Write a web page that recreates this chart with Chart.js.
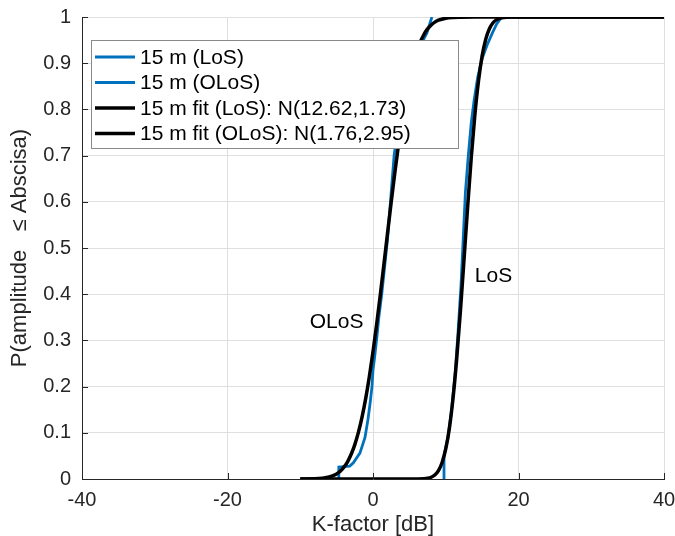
<!DOCTYPE html>
<html lang="en">
  <head>
    <meta charset="UTF-8" />
    <script src="https://cdn.jsdelivr.net/npm/chart.js@4.4.1/dist/chart.umd.min.js"></script>
    <title>K-factor CDF</title>
    <style>
      html, body { margin: 0; padding: 0; background: #fff; }
      #wrap { width: 675px; height: 536px; }
    </style>
  </head>
  <body>
    <div id="wrap"><canvas id="myChart" width="675" height="536"></canvas></div>
    <script>
      const losX = [9.76, 9.76, 10.3, 10.8, 11.3, 11.7, 12.1, 12.4, 12.7, 13.1, 13.5, 13.9, 14.4, 15.0, 15.7, 16.4, 17.0, 17.7];
      const losY = [0, 0.05, 0.09, 0.15, 0.23, 0.32, 0.42, 0.52, 0.62, 0.70, 0.77, 0.82, 0.87, 0.91, 0.94, 0.965, 0.985, 1.0];

      const olosX = [-4.7, -4.7, -3.2, -2.7, -1.8, -1.1, -0.7, -0.4, -0.14, 0.0, 0.27, 0.55, 0.8, 1.2, 1.6, 2.0, 2.3, 2.6, 2.9, 3.4, 4.0, 4.7, 5.5, 6.3, 6.9, 7.4, 7.8, 8.1];
      const olosY = [0, 0.026, 0.028, 0.035, 0.056, 0.09, 0.128, 0.164, 0.2, 0.236, 0.27, 0.31, 0.35, 0.40, 0.46, 0.52, 0.58, 0.64, 0.70, 0.76, 0.82, 0.87, 0.91, 0.935, 0.95, 0.965, 0.985, 1.0];

      // fitted curves
      const fitLosX = [-10, 5, 6, 7, 7.5, 8, 8.5, 9, 9.5, 10, 10.5, 11, 11.5, 12, 12.5, 13, 13.5, 14, 14.5, 15, 15.5, 16, 16.5, 17, 17.5, 18, 19, 20, 40];
      const fitLosY = [0, 0, 0.0001, 0.0006, 0.0015, 0.0038, 0.0087, 0.0181, 0.0357, 0.065, 0.11, 0.1746, 0.2589, 0.3601, 0.4724, 0.5871, 0.6946, 0.7876, 0.8614, 0.9158, 0.9521, 0.9747, 0.9875, 0.9943, 0.9976, 0.9991, 0.9999, 1, 1];

      const fitOlosX = [-10, -8, -7, -6, -5, -4.5, -4, -3.5, -3, -2.5, -2, -1.5, -1, -0.5, 0, 0.5, 1, 1.5, 2, 2.5, 3, 3.5, 4, 4.5, 5, 5.5, 6, 6.5, 7, 7.5, 8, 8.5, 9, 10, 11, 12, 14, 40];
      const fitOlosY = [0, 0.0004, 0.0015, 0.0043, 0.011, 0.0169, 0.0256, 0.0373, 0.0535, 0.0744, 0.1015, 0.1346, 0.1746, 0.2219, 0.2753, 0.3347, 0.3982, 0.4649, 0.5324, 0.5991, 0.6628, 0.7224, 0.7762, 0.8235, 0.8638, 0.8976, 0.9247, 0.9459, 0.9621, 0.9742, 0.9828, 0.9889, 0.993, 0.9974, 0.9991, 0.9997, 1, 1];

      const seriesLabels = ["15 m (LoS)", "15 m (OLoS)", "15 m fit (LoS): N(12.62,1.73)", "15 m fit (OLoS): N(1.76,2.95)"];
      const notes = [
        { text: "LoS", x: 14.0, y: 0.44 },
        { text: "OLoS", x: -8.7, y: 0.34 },
      ];

      const FONT = "'Liberation Sans', Arial, Helvetica, sans-serif";
      const blue = "#0072BD";
      const axisColor = "#262626";

      const pts = (xs, ys) => xs.map((x, i) => ({ x: x, y: ys[i] }));

      // legend box, inner ticks and text notes
      const extras = {
        id: "extras",
        afterDatasetsDraw(chart) {
          const ctx = chart.ctx;
          const area = chart.chartArea;
          const xs = chart.scales.x, ys = chart.scales.y;
          ctx.save();

          // inward tick marks
          ctx.strokeStyle = axisColor;
          ctx.lineWidth = 1;
          ctx.beginPath();
          xs.ticks.forEach((t) => {
            const px = Math.round(xs.getPixelForValue(t.value)) + 0.5;
            ctx.moveTo(px, area.bottom);
            ctx.lineTo(px, area.bottom - 6);
          });
          ys.ticks.forEach((t) => {
            const py = Math.round(ys.getPixelForValue(t.value)) + 0.5;
            ctx.moveTo(area.left, py);
            ctx.lineTo(area.left + 6, py);
          });
          ctx.stroke();

          // text notes
          ctx.fillStyle = "#000";
          ctx.font = "21px " + FONT;
          ctx.textAlign = "left";
          ctx.textBaseline = "middle";
          notes.forEach((n) => {
            ctx.fillText(n.text, xs.getPixelForValue(n.x), ys.getPixelForValue(n.y));
          });

          // legend
          const bx = area.left + 9, by = area.top + 23, bw = 367, bh = 108;
          ctx.fillStyle = "#fff";
          ctx.fillRect(bx, by, bw, bh);
          ctx.strokeStyle = "#8a8a8a";
          ctx.lineWidth = 1;
          ctx.strokeRect(bx + 0.5, by + 0.5, bw, bh);
          ctx.font = "21px " + FONT;
          ctx.textBaseline = "middle";
          chart.data.datasets.forEach((ds, i) => {
            const cy = by + 17 + i * 25.5;
            ctx.strokeStyle = ds.borderColor;
            ctx.lineWidth = ds.borderWidth;
            ctx.beginPath();
            ctx.moveTo(bx + 4, cy);
            ctx.lineTo(bx + 44, cy);
            ctx.stroke();
            ctx.fillStyle = "#000";
            ctx.fillText(ds.label, bx + 49, cy + 1);
          });
          ctx.restore();
        },
      };

      const ctx = document.getElementById("myChart").getContext("2d");
      const chart = new Chart(ctx, {
        type: "line",
        data: {
          datasets: [
            { label: seriesLabels[0], data: pts(losX, losY), borderColor: blue, borderWidth: 2.8, order: 4 },
            { label: seriesLabels[1], data: pts(olosX, olosY), borderColor: blue, borderWidth: 2.8, order: 3 },
            { label: seriesLabels[2], data: pts(fitLosX, fitLosY), borderColor: "#000", borderWidth: 3.5, order: 2, cubicInterpolationMode: "monotone" },
            { label: seriesLabels[3], data: pts(fitOlosX, fitOlosY), borderColor: "#000", borderWidth: 3.5, order: 1, cubicInterpolationMode: "monotone" },
          ],
        },
        options: {
          responsive: false,
          animation: false,
          elements: { point: { radius: 0 }, line: { fill: false } },
          layout: { padding: { top: 17, right: 11, left: 0, bottom: 0 } },
          plugins: { legend: { display: false }, tooltip: { enabled: false } },
          scales: {
            x: {
              type: "linear",
              min: -40,
              max: 40,
              afterFit: (s) => { s.height = 57; s.paddingLeft = 0; s.paddingRight = 0; },
              ticks: { stepSize: 20, padding: 9, color: axisColor, font: { family: FONT, size: 20 } },
              grid: { color: "#dfdfdf", drawTicks: false },
              border: { color: axisColor },
              title: { display: true, text: "K-factor [dB]", color: axisColor, padding: { top: 0, bottom: 0 }, font: { family: FONT, size: 22, lineHeight: 1 } },
            },
            y: {
              min: 0,
              max: 1,
              afterFit: (s) => { s.width = 82; s.paddingTop = 0; s.paddingBottom = 0; },
              ticks: { stepSize: 0.1, padding: 11, color: axisColor, font: { family: FONT, size: 20 },
                callback: (v) => String(Math.round(v * 10) / 10) },
              grid: { color: "#dfdfdf", drawTicks: false },
              border: { color: axisColor },
              title: { display: true, text: "P(amplitude   \u2264 Abscisa)", color: axisColor, padding: { top: 9, bottom: 0 }, font: { family: FONT, size: 22, lineHeight: 1 } },
            },
          },
        },
        plugins: [extras],
      });
    </script>
  </body>
</html>
